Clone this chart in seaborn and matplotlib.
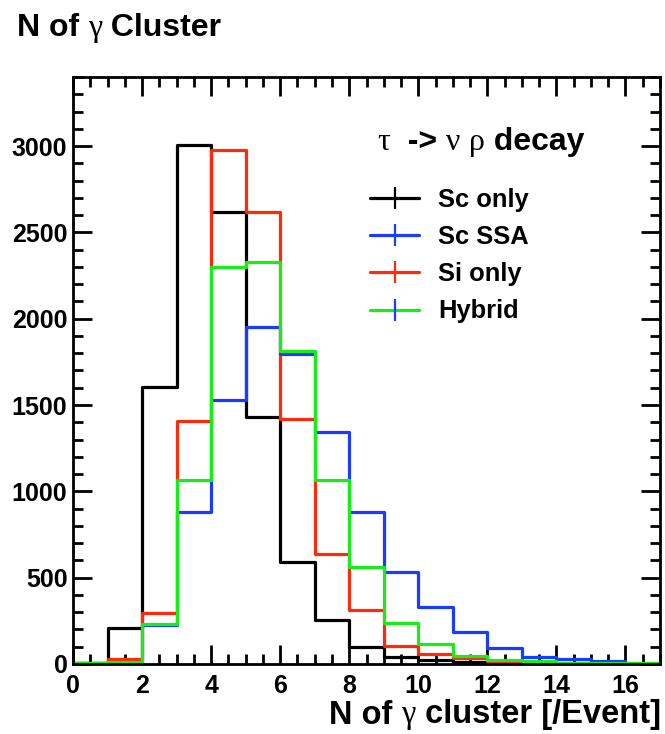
import numpy as np
import pandas as pd
import matplotlib
matplotlib.use("Agg")
import matplotlib.pyplot as plt
from matplotlib.lines import Line2D
from matplotlib.ticker import MultipleLocator
from matplotlib.offsetbox import TextArea, HPacker, AnchoredOffsetbox
import seaborn as sns

# Données (contenu par bin de largeur 1, de 0 à 17)
bords = list(range(0, 18))
centres = [b + 0.5 for b in bords[:-1]]
sc_only = [5, 210, 1604, 3005, 2619, 1428, 592, 255, 100, 42, 23, 10, 6, 3, 1, 0, 0]
sc_ssa = [3, 5, 226, 882, 1529, 1953, 1793, 1345, 882, 534, 328, 183, 91, 42, 27, 19, 3]
si_only = [5, 29, 297, 1407, 2980, 2619, 1419, 637, 313, 106, 58, 33, 15, 8, 3, 1, 0]
hybrid = [6, 13, 232, 1065, 2297, 2326, 1814, 1065, 560, 236, 116, 48, 23, 17, 8, 8, 8]

series = ["Sc only", "Sc SSA", "Si only", "Hybrid"]
couleurs = {"Sc only": "#000000", "Sc SSA": "#1a3cff", "Si only": "#ff2a0a", "Hybrid": "#17ee17"}
# couleur de la petite barre verticale dans la légende
couleurs_barre = {"Sc only": "#000000", "Sc SSA": "#1a3cff", "Si only": "#ff2a0a", "Hybrid": "#1a3cff"}

sns.set_theme(style="ticks")
plt.rcParams["font.family"] = ["Liberation Sans", "DejaVu Sans"]
plt.rcParams["font.weight"] = "bold"
plt.rcParams["text.color"] = "black"
plt.rcParams["axes.labelcolor"] = "black"
plt.rcParams["xtick.color"] = "black"
plt.rcParams["ytick.color"] = "black"
plt.rcParams["axes.edgecolor"] = "black"


def texte_mixte(morceaux, taille):
    """Texte avec lettres grecques en serif normal et le reste en gras"""
    zones = []
    for txt, grec in morceaux:
        if grec:
            props = dict(family="Liberation Serif", weight="normal", size=taille, color="black")
        else:
            props = dict(family="Liberation Sans", weight="bold", size=taille, color="black")
        zones.append(TextArea(txt, textprops=props))
    return HPacker(children=zones, align="baseline", pad=0, sep=0)


df = pd.DataFrame({
    "x": centres * 4,
    "n": sc_only + sc_ssa + si_only + hybrid,
    "serie": np.repeat(series, len(centres)),
})

fig = plt.figure(figsize=(6.65, 7.34), dpi=100)
ax = fig.add_axes([0.1098, 0.0954, 0.8827, 0.7997])

# ordre de tracé : vert au-dessus
for s in ["Sc only", "Si only", "Sc SSA", "Hybrid"]:
    sous = df[df["serie"] == s].reset_index(drop=True)
    sns.histplot(data=sous, x="x", weights="n", bins=bords,
                 element="step", fill=False, color=couleurs[s], linewidth=2.3, ax=ax)

ax.set_xlim(0, 17)
ax.set_ylim(0, 3400)
ax.xaxis.set_major_locator(MultipleLocator(2))
ax.xaxis.set_minor_locator(MultipleLocator(0.5))
ax.yaxis.set_major_locator(MultipleLocator(500))
ax.yaxis.set_minor_locator(MultipleLocator(100))
ax.tick_params(which="both", direction="in", top=True, right=True, width=2, labelsize=18)
ax.tick_params(axis="y", pad=4)
ax.tick_params(axis="x", pad=7)
ax.tick_params(which="major", length=14)
ax.tick_params(which="minor", length=7)
for sp in ax.spines.values():
    sp.set_linewidth(2)
for lab in ax.get_xticklabels() + ax.get_yticklabels():
    lab.set_fontweight("bold")

ax.set_ylabel("")
ax.set_xlabel("")

# titre en haut à gauche
titre = texte_mixte([("N of ", False), ("γ", True), (" Cluster", False)], 23)
fig.add_artist(AnchoredOffsetbox(loc="center left", child=titre, pad=0, borderpad=0, frameon=False,
                                 bbox_to_anchor=(17 / 665, 1 - 28 / 734), bbox_transform=fig.transFigure))

# titre de l'axe x, aligné à droite
xlab = texte_mixte([("N of ", False), ("γ", True), (" cluster [/Event]", False)], 23.5)
fig.add_artist(AnchoredOffsetbox(loc="center right", child=xlab, pad=0, borderpad=0, frameon=False,
                                 bbox_to_anchor=(661 / 665, 1 - 715 / 734), bbox_transform=fig.transFigure))

# en-tête de la légende
entete = texte_mixte([("τ", True), ("  -> ", False), ("ν", True), (" ", False), ("ρ", True), (" decay", False)], 23)
ax.add_artist(AnchoredOffsetbox(loc="center left", child=entete, pad=0, borderpad=0, frameon=False,
                                bbox_to_anchor=(0.518, 0.889), bbox_transform=ax.transAxes))

poignees = [Line2D([0], [0], color=couleurs[s], lw=2.3, marker="|", markersize=16,
                   markeredgewidth=1.6, markeredgecolor=couleurs_barre[s]) for s in series]
leg = ax.legend(poignees, series, loc="upper left", bbox_to_anchor=(0.489, 0.829), frameon=False,
                borderaxespad=0, handlelength=1.9, labelspacing=0.52, handletextpad=0.75,
                prop={"family": "Liberation Sans", "weight": "bold", "size": 18.4})

fig.savefig("out.png", dpi=100, facecolor="white")
